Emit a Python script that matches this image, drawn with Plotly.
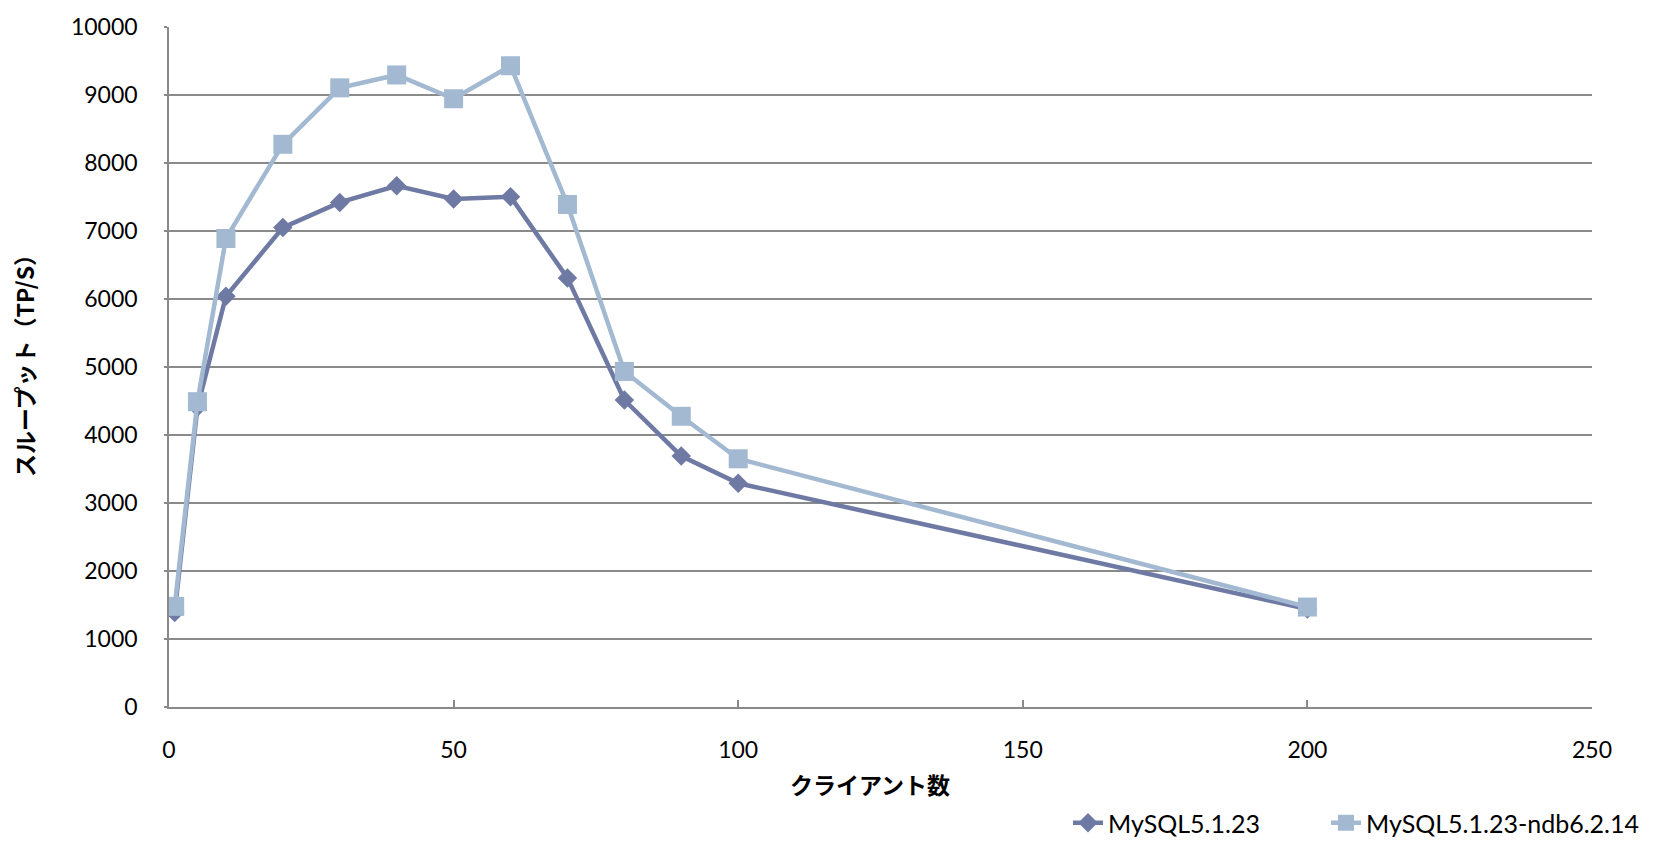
import plotly.graph_objects as go

clients = [1, 5, 10, 20, 30, 40, 50, 60, 70, 80, 90, 100, 200]
mysql = [1390, 4410, 6040, 7050, 7420, 7665, 7470, 7505, 6310, 4515, 3690, 3290, 1440]
ndb = [1480, 4490, 6890, 8275, 9105, 9295, 8945, 9430, 7390, 4935, 4275, 3650, 1470]
series_names = ["MySQL5.1.23", "MySQL5.1.23-ndb6.2.14"]
x_title = "クライアント数"
y_title = "スループット（TP/S）"

c1 = "#6f7aa4"
c2 = "#a2b9d1"
font_main = "Lato, 'Noto Sans', sans-serif"
font_cjk = "'Noto Sans CJK JP', sans-serif"

fig = go.Figure()
fig.add_trace(go.Scatter(x=clients, y=mysql, name=series_names[0], mode="lines+markers",
                         line=dict(color=c1, width=4.5), legend="legend",
                         marker=dict(symbol="diamond", size=15, color=c1)))
fig.add_trace(go.Scatter(x=clients, y=ndb, name=series_names[1], mode="lines+markers",
                         line=dict(color=c2, width=4.5), legend="legend2",
                         marker=dict(symbol="square", size=19, color=c2)))

leg_common = dict(orientation="h", xref="container", yref="container", xanchor="left",
                  y=(841 - 823) / 841, yanchor="middle",
                  font=dict(family=font_main, size=25), bgcolor="rgba(0,0,0,0)")

fig.update_layout(
    width=1656, height=841,
    margin=dict(l=169, r=64, t=21, b=134),
    paper_bgcolor="white", plot_bgcolor="white",
    font=dict(family=font_main, size=23, color="black"),
    showlegend=True,
    legend=dict(x=1068 / 1656, **leg_common),
    legend2=dict(x=(1068 + 258) / 1656, **leg_common),
    xaxis=dict(range=[0, 250], tickvals=[0, 50, 100, 150, 200, 250], showgrid=False,
               showline=True, linecolor="#8a8a8a", linewidth=1.5,
               ticks="inside", ticklen=7, tickcolor="#8a8a8a", tickwidth=1.5,
               ticklabelstandoff=22, zeroline=False, tickformat="d"),
    yaxis=dict(range=[0, 10000], dtick=1000, showgrid=True, gridcolor="#8a8a8a", gridwidth=1.5,
               showline=True, linecolor="#8a8a8a", linewidth=1.5,
               ticks="outside", ticklen=3, tickcolor="#8a8a8a", tickwidth=1.5,
               ticklabelstandoff=22, zeroline=False, tickformat="d"),
    annotations=[
        dict(text="<b>" + x_title + "</b>", xref="paper", yref="paper", x=(870 - 169) / 1423,
             y=-(785 - 707) / 686, xanchor="center", yanchor="middle", showarrow=False,
             font=dict(family=font_cjk, size=23, color="black")),
        dict(text="<b>" + y_title + "</b>", xref="paper", yref="paper", x=-(169 - 24) / 1423,
             y=(707 - 357) / 686, xanchor="center", yanchor="middle", showarrow=False,
             textangle=-90, font=dict(family=font_cjk, size=23, color="black")),
    ],
)

fig.write_html("out.html")
